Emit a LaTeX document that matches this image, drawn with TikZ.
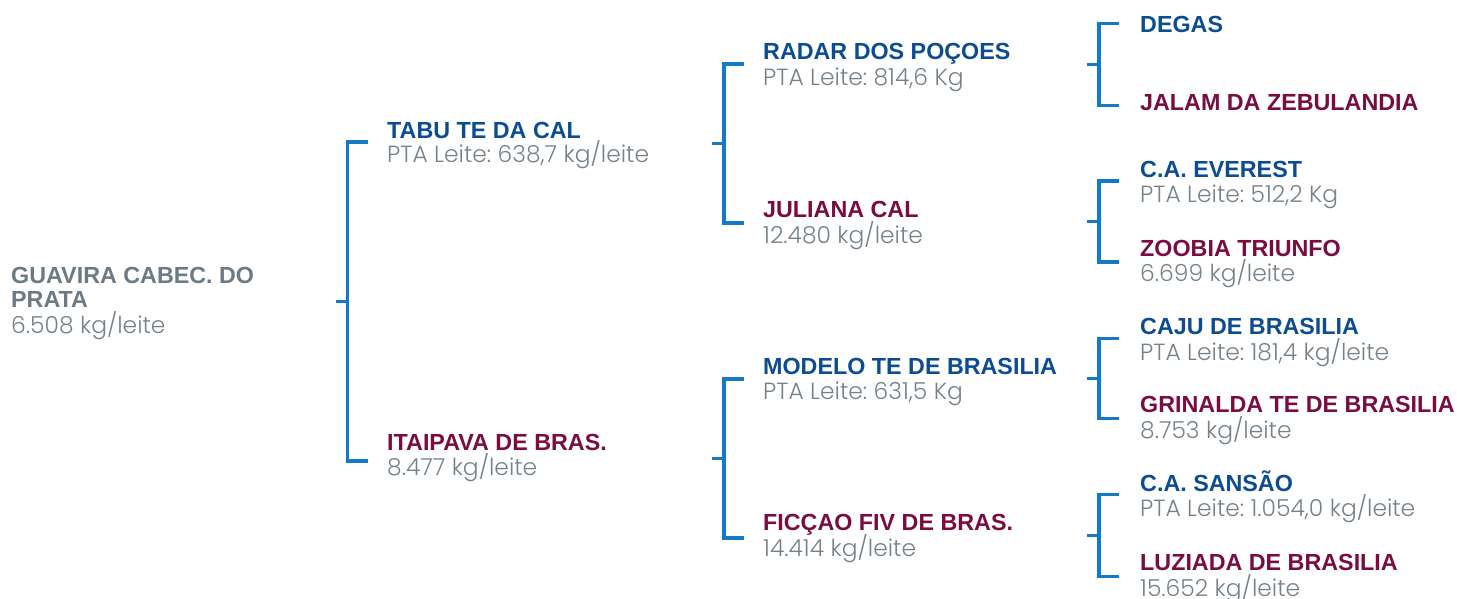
\documentclass[tikz,border=0pt]{standalone}
\usepackage{fontspec}
\setmainfont{Liberation Sans}
\newfontfamily\valfont{Poppins}[UprightFont={* Light}]
\usetikzlibrary{calc}
\definecolor{SireBlue}{HTML}{0B4C92}
\definecolor{DamWine}{HTML}{7A0C42}
\definecolor{ValGray}{HTML}{76828A}
\definecolor{RootGray}{HTML}{6C7A83}
\definecolor{BrkBlue}{HTML}{1479C6}
\frenchspacing
\tikzset{
  sire/.style={font=\fontsize{23.3}{24}\selectfont\bfseries, text=SireBlue,
               inner sep=0pt, anchor=base west},
  dam/.style={font=\fontsize{23.3}{24}\selectfont\bfseries, text=DamWine,
              inner sep=0pt, anchor=base west},
  rootname/.style={font=\fontsize{23.3}{24}\selectfont\bfseries, text=RootGray,
                   inner sep=0pt, anchor=north west, align=left},
  val/.style={font=\valfont\fontsize{23.4}{25}\selectfont, text=ValGray,
              inner sep=0pt, anchor=base west},
  brk/.style={draw=BrkBlue, line width=3.5pt},
}
\begin{document}
\begin{tikzpicture}[x=1pt, y=-1pt]
\useasboundingbox (0,0) rectangle (1457,598);
% ---------- animal
\node[rootname] (root) at (11,267.5) {GUAVIRA CABEC. DO\\PRATA};
\node[val] (rootv) at ($(root.south west)+(0,25)$) {6.508 kg/leite};
% ---------- parents
\node[sire] (tabu) at (387,138) {TABU TE DA CAL};
\node[val] (tabuv) at ($(tabu.base west)+(0,24)$) {PTA Leite: 638,7 kg/leite};
\node[dam] (itai) at (387,450) {ITAIPAVA DE BRAS.};
\node[val] (itaiv) at ($(itai.base west)+(0,25)$) {8.477 kg/leite};
% ---------- grandparents
\node[sire] (radar) at (763,59) {RADAR DOS POÇOES};
\node[val] (radarv) at ($(radar.base west)+(0,26)$) {PTA Leite: 814,6 Kg};
\node[dam] (juli) at (763,217) {JULIANA CAL};
\node[val] (juliv) at ($(juli.base west)+(0,26)$) {12.480 kg/leite};
\node[sire] (modelo) at (763,374) {MODELO TE DE BRASILIA};
\node[val] (modelov) at ($(modelo.base west)+(0,25)$) {PTA Leite: 631,5 Kg};
\node[dam] (ficcao) at (763,530) {FICÇAO FIV DE BRAS.};
\node[val] (ficcaov) at ($(ficcao.base west)+(0,26)$) {14.414 kg/leite};
% ---------- great-grandparents
\node[sire] (degas) at (1140,32) {DEGAS};
\node[dam] (jalam) at (1140,110) {JALAM DA ZEBULANDIA};
\node[sire] (everest) at (1140,177) {C.A. EVEREST};
\node[val] (everestv) at ($(everest.base west)+(0,25)$) {PTA Leite: 512,2 Kg};
\node[dam] (zoobia) at (1140,256) {ZOOBIA TRIUNFO};
\node[val] (zoobiav) at ($(zoobia.base west)+(0,25)$) {6.699 kg/leite};
\node[sire] (caju) at (1140,334) {CAJU DE BRASILIA};
\node[val] (cajuv) at ($(caju.base west)+(0,26)$) {PTA Leite: 181,4 kg/leite};
\node[dam] (grin) at (1140,412) {GRINALDA TE DE BRASILIA};
\node[val] (grinv) at ($(grin.base west)+(0,26)$) {8.753 kg/leite};
\node[sire] (sansao) at (1140,491.5) {C.A. SANSÃO};
\node[val] (sansaov) at ($(sansao.base west)+(0,25)$) {PTA Leite: 1.054,0 kg/leite};
\node[dam] (luzi) at (1140,570.5) {LUZIADA DE BRASILIA};
\node[val] (luziv) at ($(luzi.base west)+(0,25.5)$) {15.652 kg/leite};
% ---------- brackets
\coordinate (j1) at (347.5,301.5);
\coordinate (j2) at (724,143.5);
\coordinate (j3) at (724,458.5);
\coordinate (j4) at (1099,64.5);
\coordinate (j5) at (1099,221.5);
\coordinate (j6) at (1099,378.5);
\coordinate (j7) at (1099,535.5);
\foreach \j/\h in {j1/159.5,j2/79.5,j3/79.5,j4/41,j5/40.5,j6/40,j7/41}{
  \draw[brk] ($(\j)+(20,-\h)$) -| ($(\j)+(0,\h)$) -- ++(20,0);
  \draw[brk] ($(\j)+(-12,0)$) -- (\j);
}
\end{tikzpicture}
\end{document}
